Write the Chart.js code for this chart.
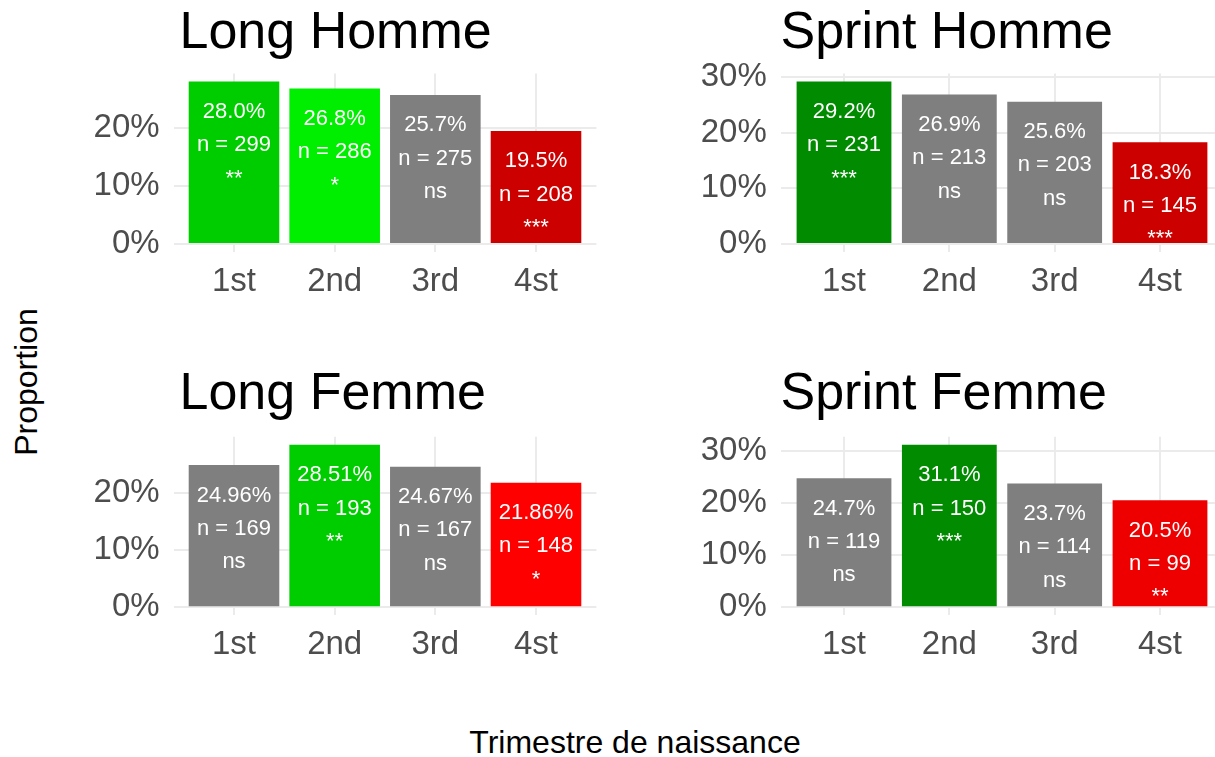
<!DOCTYPE html>
<html>
<head>
<meta charset="utf-8">
<script src="https://cdn.jsdelivr.net/npm/chart.js@4.4.1/dist/chart.umd.min.js"></script>
<style>
  html, body { margin: 0; padding: 0; background: #fff; overflow: hidden; width: 1215px; height: 757px; }
  body { position: relative; font-family: "Liberation Sans", Arial, sans-serif; }
  canvas { position: absolute; }
  .titre { position: absolute; font-size: 52px; line-height: 1; color: #000; white-space: nowrap; }
  .axe { position: absolute; font-size: 32px; line-height: 1; color: #000; white-space: nowrap; }
</style>
</head>
<body>
<div class="titre" style="left:179.5px; top:4.3px;">Long Homme</div>
<div class="titre" style="left:780.5px; top:4.3px;">Sprint Homme</div>
<div class="titre" style="left:179.5px; top:365.3px;">Long Femme</div>
<div class="titre" style="left:780.5px; top:365.3px;">Sprint Femme</div>
<div class="axe" style="left:26px; top:382px; transform: translate(-50%, -50%) rotate(-90deg);">Proportion</div>
<div class="axe" style="left:635px; top:726px; transform: translateX(-50%);">Trimestre de naissance</div>

<canvas id="longHomme" width="600" height="320" style="left:0; top:0;"></canvas>
<canvas id="sprintHomme" width="630" height="320" style="left:600px; top:0;"></canvas>
<canvas id="longFemme" width="600" height="330" style="left:0; top:360px;"></canvas>
<canvas id="sprintFemme" width="630" height="330" style="left:600px; top:360px;"></canvas>

<script>
const categories = ['1st', '2nd', '3rd', '4st'];

const longHommePct = [28.0, 26.8, 25.7, 19.5];
const longHommeN = [299, 286, 275, 208];
const longHommeSig = ['**', '*', 'ns', '***'];

const sprintHommePct = [29.2, 26.9, 25.6, 18.3];
const sprintHommeN = [231, 213, 203, 145];
const sprintHommeSig = ['***', 'ns', 'ns', '***'];

const longFemmePct = [24.96, 28.51, 24.67, 21.86];
const longFemmeN = [169, 193, 167, 148];
const longFemmeSig = ['ns', '**', 'ns', '*'];

const sprintFemmePct = [24.7, 31.1, 23.7, 20.5];
const sprintFemmeN = [119, 150, 114, 99];
const sprintFemmeSig = ['ns', '***', 'ns', '**'];

const yTicks = [0, 5, 10, 15, 20, 25, 30];

const gris = '#7F7F7F';
const police = '"Liberation Sans", Arial, sans-serif';

function creerPanneau(id, pct, n, sig, couleurs, decimales, cadre) {
  const ctx = document.getElementById(id).getContext('2d');
  const haut = Math.max(...pct);

  // étiquettes blanches dans les barres
  const etiquettes = {
    id: 'etiquettes',
    afterDatasetsDraw(chart) {
      const c = chart.ctx;
      c.save();
      c.fillStyle = '#FFFFFF';
      c.font = '22px ' + police;
      c.textAlign = 'center';
      c.textBaseline = 'alphabetic';
      chart.getDatasetMeta(0).data.forEach((bar, i) => {
        const lignes = [pct[i].toFixed(decimales) + '%', 'n = ' + n[i], sig[i]];
        lignes.forEach((t, k) => c.fillText(t, bar.x, bar.y + 36.5 + k * 33.3));
      });
      c.restore();
    }
  };

  return new Chart(ctx, {
    type: 'bar',
    data: {
      datasets: [{
        data: pct.map((v, i) => ({ x: i + 1, y: v })),
        backgroundColor: couleurs,
        borderWidth: 0,
        categoryPercentage: 1,
        barPercentage: 0.9
      }]
    },
    options: {
      responsive: false,
      animation: false,
      devicePixelRatio: 1,
      layout: { padding: { top: cadre.top, right: cadre.right, left: 0, bottom: 0 } },
      scales: {
        x: {
          type: 'linear',
          min: 0.4,
          max: 4.6,
          offset: false,
          afterBuildTicks: axis => { axis.ticks = categories.map((c, i) => ({ value: i + 1 })); },
          afterFit: axis => { axis.height = cadre.xHeight; },
          ticks: {
            autoSkip: false,
            maxRotation: 0,
            padding: 10,
            color: '#4D4D4D',
            font: { family: police, size: 33 },
            callback: v => categories[v - 1]
          },
          grid: { color: '#EBEBEB', lineWidth: 2, drawTicks: false, offset: false },
          border: { display: false }
        },
        y: {
          min: -0.05 * haut,
          max: 1.05 * haut,
          afterBuildTicks: axis => {
            axis.ticks = yTicks.filter(v => v <= axis.max).map(v => ({ value: v }));
          },
          afterFit: axis => { axis.width = cadre.yWidth; },
          ticks: {
            padding: 14,
            color: '#4D4D4D',
            font: { family: police, size: 33 },
            callback: v => (v % 10 === 0 ? v + '%' : '')
          },
          grid: {
            color: '#EBEBEB',
            lineWidth: c => (c.tick && c.tick.value % 10 === 0 ? 2 : 1.1),
            drawTicks: false
          },
          border: { display: false }
        }
      },
      plugins: { legend: { display: false }, tooltip: { enabled: false } }
    },
    plugins: [etiquettes]
  });
}

const cadreHautGauche = { top: 73.5, right: 3.6, yWidth: 173.6, xHeight: 67.9 };
const cadreHautDroite = { top: 73.5, right: 6.8, yWidth: 180.8, xHeight: 67.9 };
const cadreBasGauche = { top: 76.7, right: 3.6, yWidth: 173.6, xHeight: 74.7 };
const cadreBasDroite = { top: 76.7, right: 6.8, yWidth: 180.8, xHeight: 74.7 };

creerPanneau('longHomme', longHommePct, longHommeN, longHommeSig,
  ['#00CD00', '#00EE00', gris, '#CD0000'], 1, cadreHautGauche);
creerPanneau('sprintHomme', sprintHommePct, sprintHommeN, sprintHommeSig,
  ['#008B00', gris, gris, '#CD0000'], 1, cadreHautDroite);
creerPanneau('longFemme', longFemmePct, longFemmeN, longFemmeSig,
  [gris, '#00CD00', gris, '#FF0000'], 2, cadreBasGauche);
creerPanneau('sprintFemme', sprintFemmePct, sprintFemmeN, sprintFemmeSig,
  [gris, '#008B00', gris, '#EE0000'], 1, cadreBasDroite);
</script>
</body>
</html>
